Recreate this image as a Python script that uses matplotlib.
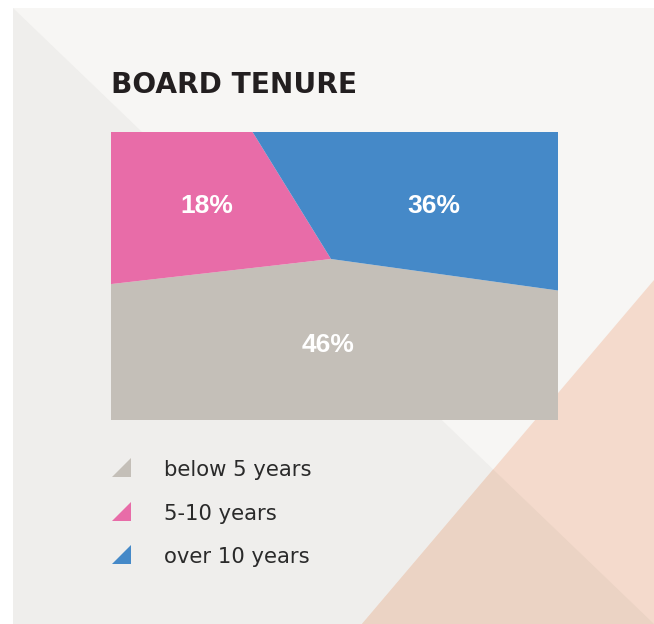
import matplotlib
matplotlib.use("Agg")
import matplotlib.pyplot as plt
from matplotlib.patches import Polygon, Rectangle

# data
categories = ["below 5 years", "5-10 years", "over 10 years"]
shares = [46, 18, 36]
colors = ["#C4BFB8", "#E86CA8", "#4589C8"]

# label anchors, pixels relative to the pie centre (x right, y up)
label_xy = [(-3, -93), (-124, 46), (102.5, 46)]

W, H = 654, 624
fig = plt.figure(figsize=(W / 100, H / 100), dpi=100)
fig.patch.set_facecolor("white")

# background in pixel coordinates
bg = fig.add_axes([0, 0, 1, 1])
bg.set_xlim(0, W)
bg.set_ylim(H, 0)
bg.axis("off")

bg.add_patch(Rectangle((13, 8), W - 13, H - 8, color="#F7F6F4", lw=0))
lower_left = Polygon([(13, 8), (W, H), (13, H)], closed=True, color="#EFEEEC", lw=0)
bg.add_patch(lower_left)
peach = [(362, H), (W, 280), (W, H)]
bg.add_patch(Polygon(peach, closed=True, color="#F4DACC", lw=0))
overlap = Polygon(peach, closed=True, color="#EBD3C4", lw=0)
bg.add_patch(overlap)
overlap.set_clip_path(lower_left)

# title
bg.text(111, 93, "BOARD TENURE", fontsize=20.2, fontweight="bold",
        color="#231F20", family="DejaVu Sans", va="baseline", ha="left")

# pie clipped to a rectangle
left, top, right, bottom = 111, 132, 557.5, 419.5
cx, cy = 331, 259
ax = fig.add_axes([left / W, (H - bottom) / H, (right - left) / W, (bottom - top) / H])
wedges, _ = ax.pie(shares, colors=colors, startangle=-7.9, counterclock=False,
                   radius=1200, center=(0, 0), wedgeprops=dict(linewidth=0))
ax.set_aspect("auto")
ax.set_xlim(left - cx, right - cx)
ax.set_ylim(cy - bottom, cy - top)
ax.axis("off")
for w in wedges:
    w.set_clip_on(True)
    w.set_clip_path(ax.patch)

for v, (x, y) in zip(shares, label_xy):
    ax.text(x, y, f"{v}%", color="white", fontsize=19, fontweight="bold",
            family="Liberation Sans", ha="center", va="baseline")

# legend with triangle markers
for i, (name, c) in enumerate(zip(categories, colors)):
    yb = 477 + i * 43.5
    bg.add_patch(Polygon([(111.5, yb), (130.5, yb), (130.5, yb - 19)],
                         closed=True, color=c, lw=0))
    bg.text(164, yb - 1, name, fontsize=15.2, color="#2A2A2A",
            family="DejaVu Sans", va="baseline", ha="left")

fig.savefig("out.png", dpi=100, facecolor=fig.get_facecolor())
